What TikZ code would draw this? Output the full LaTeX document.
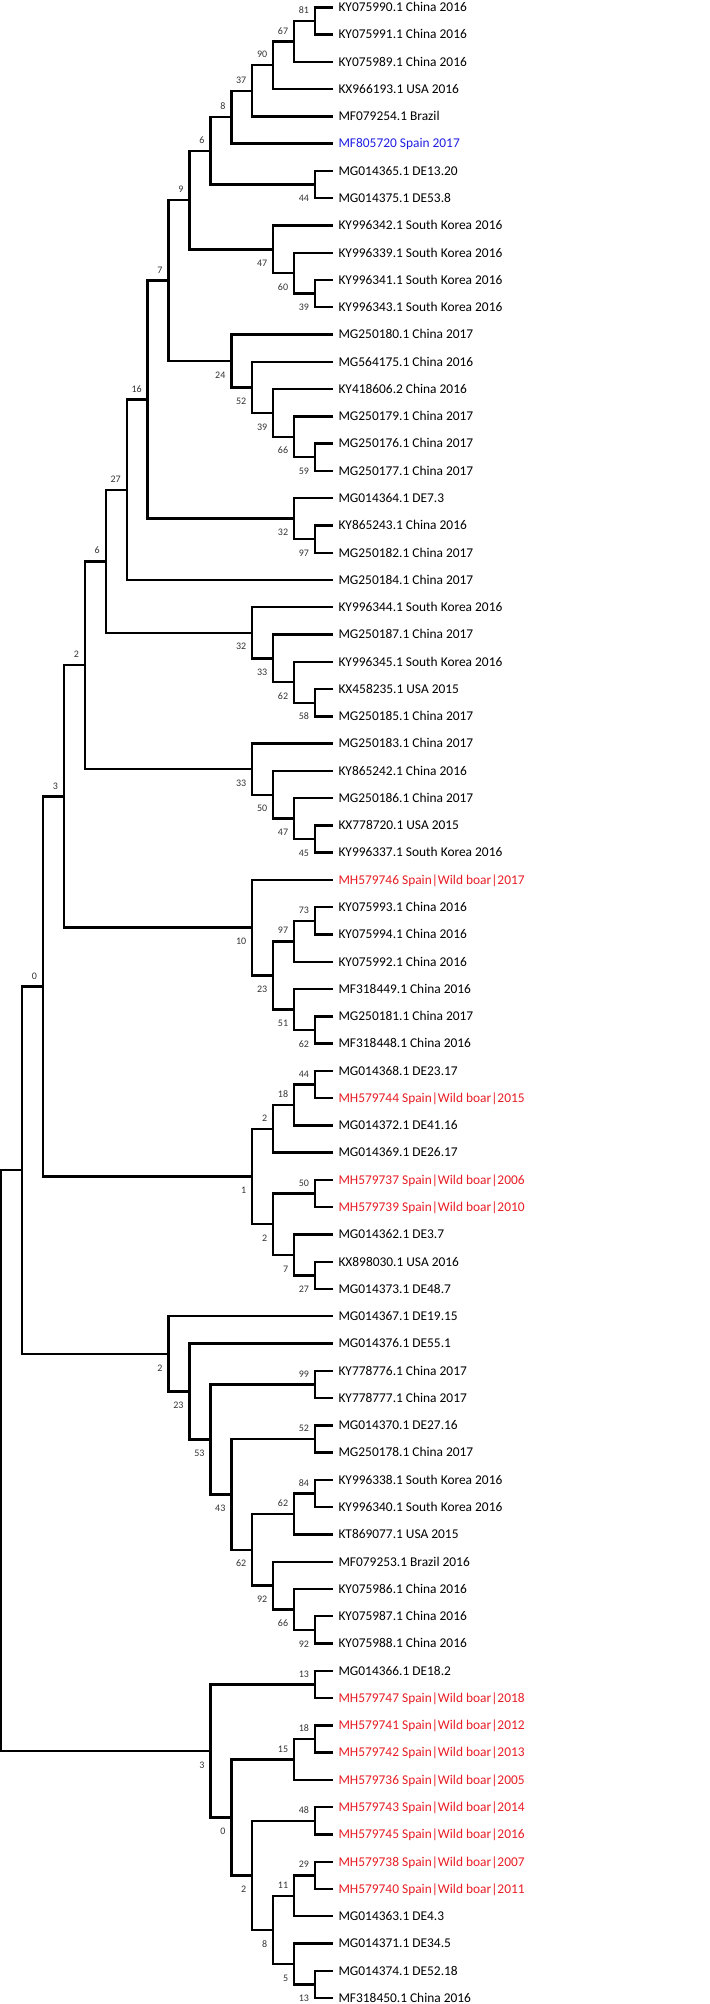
\documentclass[tikz,border=0pt]{standalone}
\usepackage{fontspec}
\setmainfont{Carlito}

\definecolor{boarred}{RGB}{232,28,36}
\definecolor{seqblue}{RGB}{30,30,225}

\begin{document}
\begin{tikzpicture}[
  x=20.92pt, y=-27.27pt,
  branch/.style={line width=2.4pt, line join=miter},
  leaf/.style={anchor=west, inner xsep=5pt, inner ysep=0pt, text height=8.6pt, text depth=0pt, font=\fontsize{13.4}{15}\selectfont},
  boar/.style={leaf, text=boarred},
  newseq/.style={leaf, text=seqblue},
  boot/.style={anchor=east, inner sep=0pt, xshift=-5.8pt, text height=6.3pt, text depth=0pt, text=black!80, font=\fontsize{10}{12}\selectfont},
  bsup/.style={boot, yshift=10.5pt},
  bsdown/.style={boot, yshift=-14pt}
]
\useasboundingbox (-0.0574,0.7323) rectangle (33.834,74.219);

% leaves
\node[leaf] (KY075990) at (15.875,1) {KY075990.1 China 2016};
\node[leaf] (KY075991) at (15.875,2) {KY075991.1 China 2016};
\node[leaf] (KY075989) at (15.875,3) {KY075989.1 China 2016};
\node[leaf] (KX966193) at (15.875,4) {KX966193.1 USA 2016};
\node[leaf] (MF079254) at (15.875,5) {MF079254.1 Brazil};
\node[newseq] (MF805720) at (15.875,6) {MF805720 Spain 2017};
\node[leaf] (MG014365) at (15.875,7) {MG014365.1 DE13.20};
\node[leaf] (MG014375) at (15.875,8) {MG014375.1 DE53.8};
\node[leaf] (KY996342) at (15.875,9) {KY996342.1 South Korea 2016};
\node[leaf] (KY996339) at (15.875,10) {KY996339.1 South Korea 2016};
\node[leaf] (KY996341) at (15.875,11) {KY996341.1 South Korea 2016};
\node[leaf] (KY996343) at (15.875,12) {KY996343.1 South Korea 2016};
\node[leaf] (MG250180) at (15.875,13) {MG250180.1 China 2017};
\node[leaf] (MG564175) at (15.875,14) {MG564175.1 China 2016};
\node[leaf] (KY418606) at (15.875,15) {KY418606.2 China 2016};
\node[leaf] (MG250179) at (15.875,16) {MG250179.1 China 2017};
\node[leaf] (MG250176) at (15.875,17) {MG250176.1 China 2017};
\node[leaf] (MG250177) at (15.875,18) {MG250177.1 China 2017};
\node[leaf] (MG014364) at (15.875,19) {MG014364.1 DE7.3};
\node[leaf] (KY865243) at (15.875,20) {KY865243.1 China 2016};
\node[leaf] (MG250182) at (15.875,21) {MG250182.1 China 2017};
\node[leaf] (MG250184) at (15.875,22) {MG250184.1 China 2017};
\node[leaf] (KY996344) at (15.875,23) {KY996344.1 South Korea 2016};
\node[leaf] (MG250187) at (15.875,24) {MG250187.1 China 2017};
\node[leaf] (KY996345) at (15.875,25) {KY996345.1 South Korea 2016};
\node[leaf] (KX458235) at (15.875,26) {KX458235.1 USA 2015};
\node[leaf] (MG250185) at (15.875,27) {MG250185.1 China 2017};
\node[leaf] (MG250183) at (15.875,28) {MG250183.1 China 2017};
\node[leaf] (KY865242) at (15.875,29) {KY865242.1 China 2016};
\node[leaf] (MG250186) at (15.875,30) {MG250186.1 China 2017};
\node[leaf] (KX778720) at (15.875,31) {KX778720.1 USA 2015};
\node[leaf] (KY996337) at (15.875,32) {KY996337.1 South Korea 2016};
\node[boar] (MH579746) at (15.875,33) {MH579746 Spain|Wild boar|2017};
\node[leaf] (KY075993) at (15.875,34) {KY075993.1 China 2016};
\node[leaf] (KY075994) at (15.875,35) {KY075994.1 China 2016};
\node[leaf] (KY075992) at (15.875,36) {KY075992.1 China 2016};
\node[leaf] (MF318449) at (15.875,37) {MF318449.1 China 2016};
\node[leaf] (MG250181) at (15.875,38) {MG250181.1 China 2017};
\node[leaf] (MF318448) at (15.875,39) {MF318448.1 China 2016};
\node[leaf] (MG014368) at (15.875,40) {MG014368.1 DE23.17};
\node[boar] (MH579744) at (15.875,41) {MH579744 Spain|Wild boar|2015};
\node[leaf] (MG014372) at (15.875,42) {MG014372.1 DE41.16};
\node[leaf] (MG014369) at (15.875,43) {MG014369.1 DE26.17};
\node[boar] (MH579737) at (15.875,44) {MH579737 Spain|Wild boar|2006};
\node[boar] (MH579739) at (15.875,45) {MH579739 Spain|Wild boar|2010};
\node[leaf] (MG014362) at (15.875,46) {MG014362.1 DE3.7};
\node[leaf] (KX898030) at (15.875,47) {KX898030.1 USA 2016};
\node[leaf] (MG014373) at (15.875,48) {MG014373.1 DE48.7};
\node[leaf] (MG014367) at (15.875,49) {MG014367.1 DE19.15};
\node[leaf] (MG014376) at (15.875,50) {MG014376.1 DE55.1};
\node[leaf] (KY778776) at (15.875,51) {KY778776.1 China 2017};
\node[leaf] (KY778777) at (15.875,52) {KY778777.1 China 2017};
\node[leaf] (MG014370) at (15.875,53) {MG014370.1 DE27.16};
\node[leaf] (MG250178) at (15.875,54) {MG250178.1 China 2017};
\node[leaf] (KY996338) at (15.875,55) {KY996338.1 South Korea 2016};
\node[leaf] (KY996340) at (15.875,56) {KY996340.1 South Korea 2016};
\node[leaf] (KT869077) at (15.875,57) {KT869077.1 USA 2015};
\node[leaf] (MF079253) at (15.875,58) {MF079253.1 Brazil 2016};
\node[leaf] (KY075986) at (15.875,59) {KY075986.1 China 2016};
\node[leaf] (KY075987) at (15.875,60) {KY075987.1 China 2016};
\node[leaf] (KY075988) at (15.875,61) {KY075988.1 China 2016};
\node[leaf] (MG014366) at (15.875,62) {MG014366.1 DE18.2};
\node[boar] (MH579747) at (15.875,63) {MH579747 Spain|Wild boar|2018};
\node[boar] (MH579741) at (15.875,64) {MH579741 Spain|Wild boar|2012};
\node[boar] (MH579742) at (15.875,65) {MH579742 Spain|Wild boar|2013};
\node[boar] (MH579736) at (15.875,66) {MH579736 Spain|Wild boar|2005};
\node[boar] (MH579743) at (15.875,67) {MH579743 Spain|Wild boar|2014};
\node[boar] (MH579745) at (15.875,68) {MH579745 Spain|Wild boar|2016};
\node[boar] (MH579738) at (15.875,69) {MH579738 Spain|Wild boar|2007};
\node[boar] (MH579740) at (15.875,70) {MH579740 Spain|Wild boar|2011};
\node[leaf] (MG014363) at (15.875,71) {MG014363.1 DE4.3};
\node[leaf] (MG014371) at (15.875,72) {MG014371.1 DE34.5};
\node[leaf] (MG014374) at (15.875,73) {MG014374.1 DE52.18};
\node[leaf] (MF318450) at (15.875,74) {MF318450.1 China 2016};

% internal nodes
\coordinate (root) at (0,54.29);
\coordinate (nA) at (1,43.643);
\coordinate (n0) at (2,36.907);
\coordinate (n3) at (3,29.938);
\coordinate (n2a) at (4,25.126);
\coordinate (n6b) at (5,21.315);
\coordinate (n27) at (6,18.692);
\coordinate (n16) at (7,15.385);
\coordinate (n7) at (8,11.020);
\coordinate (n9) at (9,8.070);
\coordinate (n6) at (10,6.266);
\coordinate (n8) at (11,5.031);
\coordinate (n37) at (12,4.063);
\coordinate (n90) at (13,3.125);
\coordinate (n67) at (14,2.25);
\coordinate (n81) at (15,1.5);
\coordinate (n44) at (15,7.5);
\coordinate (n47) at (13,9.875);
\coordinate (n60) at (14,10.75);
\coordinate (n39) at (15,11.5);
\coordinate (n24) at (11,13.969);
\coordinate (n52) at (12,14.938);
\coordinate (n39b) at (13,15.875);
\coordinate (n66) at (14,16.75);
\coordinate (n59) at (15,17.5);
\coordinate (n32) at (14,19.75);
\coordinate (n97) at (15,20.5);
\coordinate (n32b) at (12,23.938);
\coordinate (n33) at (13,24.875);
\coordinate (n62) at (14,25.75);
\coordinate (n58) at (15,26.5);
\coordinate (n33b) at (12,28.938);
\coordinate (n50) at (13,29.875);
\coordinate (n47b) at (14,30.75);
\coordinate (n45) at (15,31.5);
\coordinate (n10) at (12,34.75);
\coordinate (n97b) at (14,35.25);
\coordinate (n73) at (15,34.5);
\coordinate (n23) at (13,36.5);
\coordinate (n51) at (14,37.75);
\coordinate (n62b) at (15,38.5);
\coordinate (n1) at (12,43.875);
\coordinate (n2b) at (13,42.125);
\coordinate (n18) at (14,41.25);
\coordinate (n44b) at (15,40.5);
\coordinate (n2c) at (13,45.625);
\coordinate (n50b) at (15,44.5);
\coordinate (n7b) at (14,46.75);
\coordinate (n27b) at (15,47.5);
\coordinate (n2d) at (8,50.379);
\coordinate (n23b) at (9,51.758);
\coordinate (n53) at (10,53.516);
\coordinate (n99) at (15,51.5);
\coordinate (n43) at (11,55.531);
\coordinate (n52b) at (15,53.5);
\coordinate (n62d) at (12,57.563);
\coordinate (n62c) at (14,56.25);
\coordinate (n84) at (15,55.5);
\coordinate (n92) at (13,58.875);
\coordinate (n66b) at (14,59.75);
\coordinate (n92b) at (15,60.5);
\coordinate (n3b) at (10,64.938);
\coordinate (n13) at (15,62.5);
\coordinate (n0b) at (11,67.375);
\coordinate (n15) at (14,65.25);
\coordinate (n18b) at (15,64.5);
\coordinate (n2e) at (12,69.5);
\coordinate (n48) at (15,67.5);
\coordinate (n8b) at (13,71.5);
\coordinate (n11) at (14,70.25);
\coordinate (n29) at (15,69.5);
\coordinate (n5) at (14,72.75);
\coordinate (n13b) at (15,73.5);

% branches
\draw[branch] (root) |- (nA) (root) |- (n3b);
\draw[branch] (nA) |- (n0) (nA) |- (n2d);
\draw[branch] (n0) |- (n3) (n0) |- (n1);
\draw[branch] (n3) |- (n2a) (n3) |- (n10);
\draw[branch] (n2a) |- (n6b) (n2a) |- (n33b);
\draw[branch] (n6b) |- (n27) (n6b) |- (n32b);
\draw[branch] (n27) |- (n16) (n27) |- (MG250184.west);
\draw[branch] (n16) |- (n7) (n16) |- (n32);
\draw[branch] (n7) |- (n9) (n7) |- (n24);
\draw[branch] (n9) |- (n6) (n9) |- (n47);
\draw[branch] (n6) |- (n8) (n6) |- (n44);
\draw[branch] (n8) |- (n37) (n8) |- (MF805720.west);
\draw[branch] (n37) |- (n90) (n37) |- (MF079254.west);
\draw[branch] (n90) |- (n67) (n90) |- (KX966193.west);
\draw[branch] (n67) |- (n81) (n67) |- (KY075989.west);
\draw[branch] (n81) |- (KY075990.west) (n81) |- (KY075991.west);
\draw[branch] (n44) |- (MG014365.west) (n44) |- (MG014375.west);
\draw[branch] (n47) |- (KY996342.west) (n47) |- (n60);
\draw[branch] (n60) |- (KY996339.west) (n60) |- (n39);
\draw[branch] (n39) |- (KY996341.west) (n39) |- (KY996343.west);
\draw[branch] (n24) |- (MG250180.west) (n24) |- (n52);
\draw[branch] (n52) |- (MG564175.west) (n52) |- (n39b);
\draw[branch] (n39b) |- (KY418606.west) (n39b) |- (n66);
\draw[branch] (n66) |- (MG250179.west) (n66) |- (n59);
\draw[branch] (n59) |- (MG250176.west) (n59) |- (MG250177.west);
\draw[branch] (n32) |- (MG014364.west) (n32) |- (n97);
\draw[branch] (n97) |- (KY865243.west) (n97) |- (MG250182.west);
\draw[branch] (n32b) |- (KY996344.west) (n32b) |- (n33);
\draw[branch] (n33) |- (MG250187.west) (n33) |- (n62);
\draw[branch] (n62) |- (KY996345.west) (n62) |- (n58);
\draw[branch] (n58) |- (KX458235.west) (n58) |- (MG250185.west);
\draw[branch] (n33b) |- (MG250183.west) (n33b) |- (n50);
\draw[branch] (n50) |- (KY865242.west) (n50) |- (n47b);
\draw[branch] (n47b) |- (MG250186.west) (n47b) |- (n45);
\draw[branch] (n45) |- (KX778720.west) (n45) |- (KY996337.west);
\draw[branch] (n10) |- (MH579746.west) (n10) |- (n23);
\draw[branch] (n23) |- (n97b) (n23) |- (n51);
\draw[branch] (n97b) |- (n73) (n97b) |- (KY075992.west);
\draw[branch] (n73) |- (KY075993.west) (n73) |- (KY075994.west);
\draw[branch] (n51) |- (MF318449.west) (n51) |- (n62b);
\draw[branch] (n62b) |- (MG250181.west) (n62b) |- (MF318448.west);
\draw[branch] (n1) |- (n2b) (n1) |- (n2c);
\draw[branch] (n2b) |- (n18) (n2b) |- (MG014369.west);
\draw[branch] (n18) |- (n44b) (n18) |- (MG014372.west);
\draw[branch] (n44b) |- (MG014368.west) (n44b) |- (MH579744.west);
\draw[branch] (n2c) |- (n50b) (n2c) |- (n7b);
\draw[branch] (n50b) |- (MH579737.west) (n50b) |- (MH579739.west);
\draw[branch] (n7b) |- (MG014362.west) (n7b) |- (n27b);
\draw[branch] (n27b) |- (KX898030.west) (n27b) |- (MG014373.west);
\draw[branch] (n2d) |- (MG014367.west) (n2d) |- (n23b);
\draw[branch] (n23b) |- (MG014376.west) (n23b) |- (n53);
\draw[branch] (n53) |- (n99) (n53) |- (n43);
\draw[branch] (n99) |- (KY778776.west) (n99) |- (KY778777.west);
\draw[branch] (n43) |- (n52b) (n43) |- (n62d);
\draw[branch] (n52b) |- (MG014370.west) (n52b) |- (MG250178.west);
\draw[branch] (n62d) |- (n62c) (n62d) |- (n92);
\draw[branch] (n62c) |- (n84) (n62c) |- (KT869077.west);
\draw[branch] (n84) |- (KY996338.west) (n84) |- (KY996340.west);
\draw[branch] (n92) |- (MF079253.west) (n92) |- (n66b);
\draw[branch] (n66b) |- (KY075986.west) (n66b) |- (n92b);
\draw[branch] (n92b) |- (KY075987.west) (n92b) |- (KY075988.west);
\draw[branch] (n3b) |- (n13) (n3b) |- (n0b);
\draw[branch] (n13) |- (MG014366.west) (n13) |- (MH579747.west);
\draw[branch] (n0b) |- (n15) (n0b) |- (n2e);
\draw[branch] (n15) |- (n18b) (n15) |- (MH579736.west);
\draw[branch] (n18b) |- (MH579741.west) (n18b) |- (MH579742.west);
\draw[branch] (n2e) |- (n48) (n2e) |- (n8b);
\draw[branch] (n48) |- (MH579743.west) (n48) |- (MH579745.west);
\draw[branch] (n8b) |- (n11) (n8b) |- (n5);
\draw[branch] (n11) |- (n29) (n11) |- (MG014363.west);
\draw[branch] (n29) |- (MH579738.west) (n29) |- (MH579740.west);
\draw[branch] (n5) |- (MG014371.west) (n5) |- (n13b);
\draw[branch] (n13b) |- (MG014374.west) (n13b) |- (MF318450.west);

% bootstrap values
\node[bsup] (t0) at (n0) {0};
\node[bsup] (t3) at (n3) {3};
\node[bsup] (t2a) at (n2a) {2};
\node[bsup] (t6b) at (n6b) {6};
\node[bsup] (t27) at (n27) {27};
\node[bsup] (t16) at (n16) {16};
\node[bsup] (t7) at (n7) {7};
\node[bsup] (t9) at (n9) {9};
\node[bsup] (t6) at (n6) {6};
\node[bsup] (t8) at (n8) {8};
\node[bsup] (t37) at (n37) {37};
\node[bsup] (t90) at (n90) {90};
\node[bsup] (t67) at (n67) {67};
\node[bsup] (t81) at (n81) {81};
\node[bsdown] (t44) at (n44) {44};
\node[bsdown] (t47) at (n47) {47};
\node[bsdown] (t60) at (n60) {60};
\node[bsdown] (t39) at (n39) {39};
\node[bsdown] (t24) at (n24) {24};
\node[bsdown] (t52) at (n52) {52};
\node[bsdown] (t39b) at (n39b) {39};
\node[bsdown] (t66) at (n66) {66};
\node[bsdown] (t59) at (n59) {59};
\node[bsdown] (t32) at (n32) {32};
\node[bsdown] (t97) at (n97) {97};
\node[bsdown] (t32b) at (n32b) {32};
\node[bsdown] (t33) at (n33) {33};
\node[bsdown] (t62) at (n62) {62};
\node[bsdown] (t58) at (n58) {58};
\node[bsdown] (t33b) at (n33b) {33};
\node[bsdown] (t50) at (n50) {50};
\node[bsdown] (t47b) at (n47b) {47};
\node[bsdown] (t45) at (n45) {45};
\node[bsdown] (t10) at (n10) {10};
\node[bsup] (t97b) at (n97b) {97};
\node[bsup] (t73) at (n73) {73};
\node[bsdown] (t23) at (n23) {23};
\node[bsdown] (t51) at (n51) {51};
\node[bsdown] (t62b) at (n62b) {62};
\node[bsdown] (t1) at (n1) {1};
\node[bsup] (t2b) at (n2b) {2};
\node[bsup] (t18) at (n18) {18};
\node[bsup] (t44b) at (n44b) {44};
\node[bsdown] (t2c) at (n2c) {2};
\node[bsup] (t50b) at (n50b) {50};
\node[bsdown] (t7b) at (n7b) {7};
\node[bsdown] (t27b) at (n27b) {27};
\node[bsdown] (t2d) at (n2d) {2};
\node[bsdown] (t23b) at (n23b) {23};
\node[bsdown] (t53) at (n53) {53};
\node[bsup] (t99) at (n99) {99};
\node[bsdown] (t43) at (n43) {43};
\node[bsup] (t52b) at (n52b) {52};
\node[bsdown] (t62d) at (n62d) {62};
\node[bsup] (t62c) at (n62c) {62};
\node[bsup] (t84) at (n84) {84};
\node[bsdown] (t92) at (n92) {92};
\node[bsdown] (t66b) at (n66b) {66};
\node[bsdown] (t92b) at (n92b) {92};
\node[bsdown] (t3b) at (n3b) {3};
\node[bsup] (t13) at (n13) {13};
\node[bsdown] (t0b) at (n0b) {0};
\node[bsup] (t15) at (n15) {15};
\node[bsup] (t18b) at (n18b) {18};
\node[bsdown] (t2e) at (n2e) {2};
\node[bsup] (t48) at (n48) {48};
\node[bsdown] (t8b) at (n8b) {8};
\node[bsup] (t11) at (n11) {11};
\node[bsup] (t29) at (n29) {29};
\node[bsdown] (t5) at (n5) {5};
\node[bsdown] (t13b) at (n13b) {13};
\end{tikzpicture}
\end{document}
